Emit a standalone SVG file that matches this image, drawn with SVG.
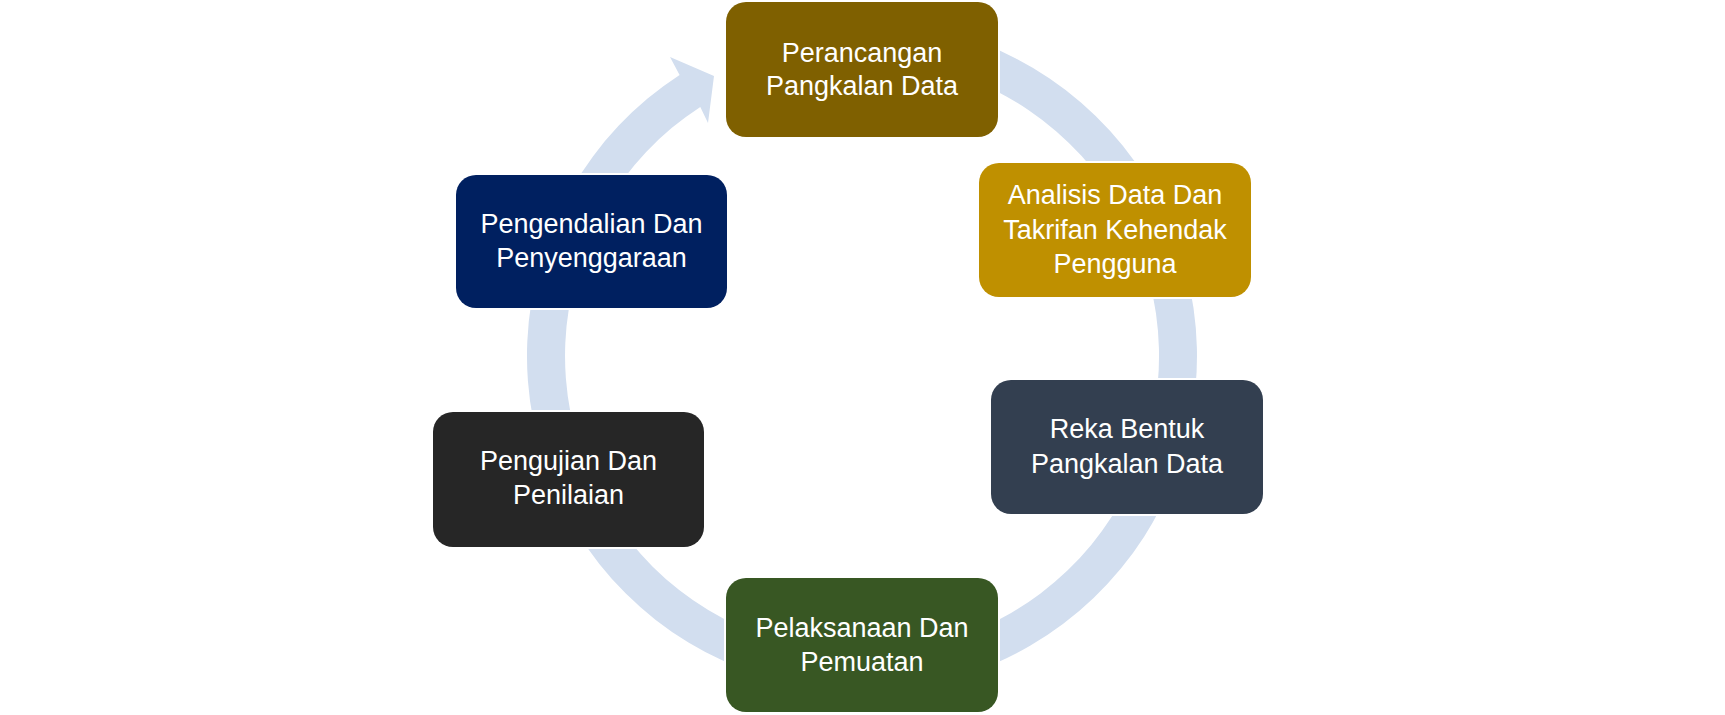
<svg xmlns="http://www.w3.org/2000/svg" width="1725" height="715" viewBox="0 0 1725 715">
<style>
.node rect{stroke:#ffffff;stroke-width:4;paint-order:stroke}
.node text{font-family:"Liberation Sans",Arial,sans-serif;font-size:27px;fill:#ffffff;text-anchor:middle}
.ring{fill:#D2DEEF}
</style>
<rect width="1725" height="715" fill="#ffffff"/>
<g id="connectors">
<path class="ring" d="M 862 21 A 335 335 0 1 1 679.6 75 L 670 57 L 714 76 L 708 123 L 700.3 106.9 A 297 297 0 1 0 862 59 Z"/>
</g>
<g id="node-perancangan" class="node">
<rect x="726" y="2" width="272" height="135" rx="20" fill="#7F6000"/>
<text x="862" y="62">Perancangan</text>
<text x="862" y="95">Pangkalan Data</text>
</g>
<g id="node-analisis" class="node">
<rect x="979" y="163" width="272" height="134" rx="20" fill="#BF9000"/>
<text x="1115" y="204">Analisis Data Dan</text>
<text x="1115" y="239">Takrifan Kehendak</text>
<text x="1115" y="273">Pengguna</text>
</g>
<g id="node-reka" class="node">
<rect x="991" y="380" width="272" height="134" rx="20" fill="#333F50"/>
<text x="1127" y="438">Reka Bentuk</text>
<text x="1127" y="473">Pangkalan Data</text>
</g>
<g id="node-pelaksanaan" class="node">
<rect x="726" y="578" width="272" height="134" rx="20" fill="#385723"/>
<text x="862" y="637">Pelaksanaan Dan</text>
<text x="862" y="671">Pemuatan</text>
</g>
<g id="node-pengujian" class="node">
<rect x="433" y="412" width="271" height="135" rx="20" fill="#262626"/>
<text x="568.5" y="470">Pengujian Dan</text>
<text x="568.5" y="504">Penilaian</text>
</g>
<g id="node-pengendalian" class="node">
<rect x="456" y="175" width="271" height="133" rx="20" fill="#002060"/>
<text x="591.5" y="233">Pengendalian Dan</text>
<text x="591.5" y="267">Penyenggaraan</text>
</g>
</svg>
